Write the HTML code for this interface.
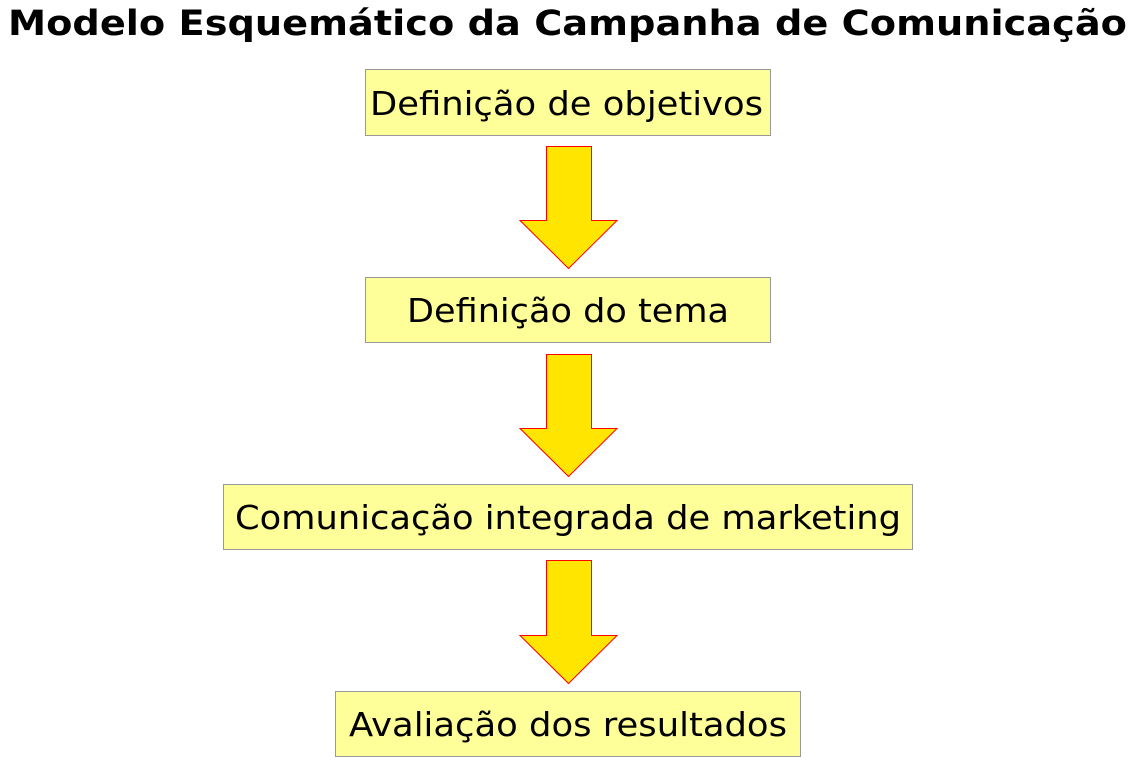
<!DOCTYPE html>
<html><head><meta charset="utf-8"><style>html,body{margin:0;padding:0;background:#fff;}svg{display:block}</style></head>
<body>
<svg width="1140" height="763" xmlns="http://www.w3.org/2000/svg" font-family="'DejaVu Sans','Liberation Sans',sans-serif">
<text x="8" y="35" font-size="35" font-weight="bold" textLength="1119" lengthAdjust="spacingAndGlyphs">Modelo Esquemático da Campanha de Comunicação</text>
<g fill="#ffff99" stroke="#999" stroke-width="1">
<rect x="365.5" y="69.5" width="405" height="66"/>
<rect x="365.5" y="277.5" width="405" height="65"/>
<rect x="223.5" y="484.5" width="689" height="65"/>
<rect x="335.5" y="691.5" width="465" height="65"/>
</g>
<g fill="#ffe500" stroke="#ff0000" stroke-width="1">
<polygon points="546.5,146.5 591.5,146.5 591.5,220.5 617,220.5 568.5,268.5 520,220.5 546.5,220.5"/>
<polygon points="546.5,354.5 591.5,354.5 591.5,428.5 617,428.5 568.5,476.5 520,428.5 546.5,428.5"/>
<polygon points="546.5,560.5 591.5,560.5 591.5,635.5 617,635.5 568.5,683.5 520,635.5 546.5,635.5"/>
</g>
<g font-size="33" fill="#000">
<text x="370" y="115" textLength="393" lengthAdjust="spacingAndGlyphs">Definição de objetivos</text>
<text x="407" y="322" textLength="322" lengthAdjust="spacingAndGlyphs">Definição do tema</text>
<text x="235" y="529" textLength="666" lengthAdjust="spacingAndGlyphs">Comunicação integrada de marketing</text>
<text x="349" y="736" textLength="438" lengthAdjust="spacingAndGlyphs">Avaliação dos resultados</text>
</g>
</svg>
</body></html>
